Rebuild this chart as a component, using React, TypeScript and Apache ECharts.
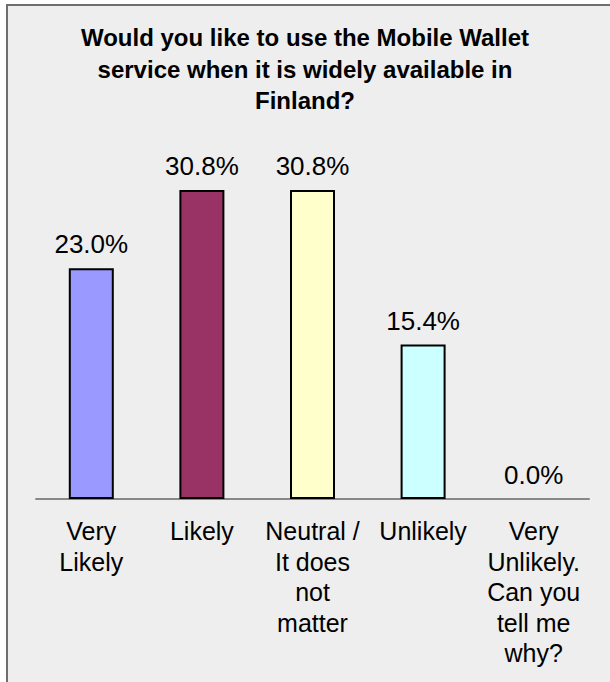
import React, { useEffect, useRef } from "react";
import * as echarts from "echarts";

const titleText = "Would you like to use the Mobile Wallet\nservice when it is widely available in\nFinland?";
const categories = [
  "Very\nLikely",
  "Likely",
  "Neutral /\nIt does\nnot\nmatter",
  "Unlikely",
  "Very\nUnlikely.\nCan you\ntell me\nwhy?",
];
const values = [23.0, 30.8, 30.8, 15.4, 0.0];
const barColors = ["#9999ff", "#993366", "#ffffcc", "#ccffff", "#ccffcc"];

export default function App() {
  const ref = useRef<HTMLDivElement>(null);
  useEffect(() => {
    if (!ref.current) return;
    const chart = echarts.init(ref.current, undefined, { renderer: "svg" });
    const font = "'Liberation Sans', Arial, sans-serif";
    chart.setOption({
      animation: false,
      backgroundColor: "#ffffff",
      graphic: [
        {
          type: "rect",
          z: -10,
          silent: true,
          shape: { x: 7, y: 5, width: 640, height: 720 },
          style: { fill: "#eeeeee", stroke: "#6e6e6e", lineWidth: 2 },
        },
      ],
      title: {
        text: titleText,
        left: "center",
        top: 22,
        padding: 0,
        textStyle: {
          fontFamily: font,
          fontSize: 24,
          fontWeight: "bold",
          color: "#000",
          lineHeight: 31.5,
          align: "center",
        },
      },
      grid: { left: 36, right: 21, top: 148, bottom: 183 },
      xAxis: {
        type: "category",
        data: categories,
        axisLine: { show: true, lineStyle: { color: "#888888", width: 2 } },
        axisTick: { show: false },
        axisLabel: {
          interval: 0,
          margin: 17,
          color: "#000",
          fontFamily: font,
          fontSize: 25,
          lineHeight: 30.5,
          align: "center",
        },
      },
      yAxis: {
        type: "value",
        min: 0,
        max: 35,
        show: false,
        splitLine: { show: false },
      },
      series: [
        {
          type: "bar",
          data: values.map((v, i) => ({
            value: v,
            itemStyle: {
              color: barColors[i],
              borderColor: "#000",
              borderWidth: v === 0 ? 0 : 2,
            },
          })),
          barWidth: 45,
          label: {
            show: true,
            position: "top",
            distance: 11,
            color: "#000",
            fontFamily: font,
            fontSize: 26,
            formatter: (p: any) => Number(p.value).toFixed(1) + "%",
          },
        },
      ],
    });
    return () => chart.dispose();
  }, []);
  return (
    <div
      ref={ref}
      style={{ position: "fixed", left: 0, top: 0, width: 610, height: 682 }}
    />
  );
}
